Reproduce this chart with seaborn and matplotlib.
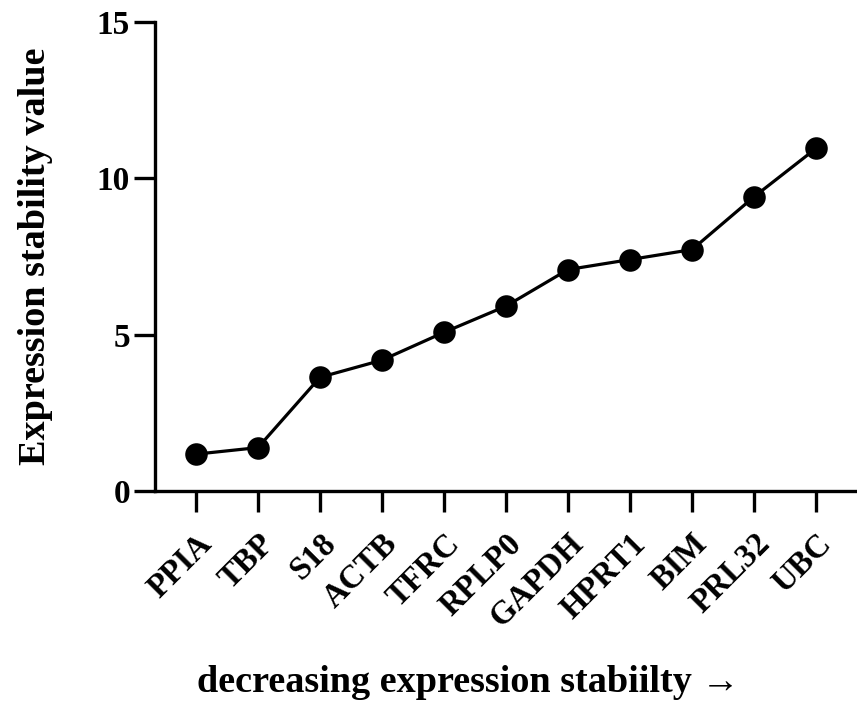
import pandas as pd
import matplotlib
matplotlib.use('Agg')
import matplotlib.pyplot as plt
import seaborn as sns

# Values
genes = ['PPIA', 'TBP', 'S18', 'ACTB', 'TFRC', 'RPLP0', 'GAPDH', 'HPRT1', 'BIM', 'PRL32', 'UBC']
stability = [1.17, 1.38, 3.63, 4.18, 5.07, 5.91, 7.08, 7.40, 7.72, 9.41, 10.96]
y_ticks = [0, 5, 10, 15]

df = pd.DataFrame({'gene': genes, 'value': stability})

sns.set_style('ticks')
plt.rcParams['font.family'] = ['Liberation Serif', 'DejaVu Serif']
plt.rcParams['font.weight'] = 'bold'
plt.rcParams['text.color'] = 'black'
plt.rcParams['axes.labelcolor'] = 'black'
plt.rcParams['xtick.color'] = 'black'
plt.rcParams['ytick.color'] = 'black'

fig = plt.figure(figsize=(8.57, 7.02), dpi=100)
ax = fig.add_axes([0.1809, 0.301, 0.8191, 0.6674])

sns.pointplot(data=df, x='gene', y='value', color='black', ax=ax,
              markers='o', markersize=14.5, linewidth=2.3, errorbar=None)

ax.set_ylim(0, 15)
ax.set_yticks(y_ticks)
ax.set_xlim(-0.66, 10.66)

sns.despine(ax=ax)
for side in ['left', 'bottom']:
    ax.spines[side].set_linewidth(2.4)
    ax.spines[side].set_color('black')

ax.tick_params(axis='both', length=15, width=2.4, color='black', labelcolor='black')
ax.tick_params(axis='y', labelsize=24, pad=3)
ax.tick_params(axis='x', labelsize=23.5, pad=12)
plt.setp(ax.get_xticklabels(), rotation=45, ha='right', rotation_mode='anchor',
         fontweight='bold')
plt.setp(ax.get_yticklabels(), fontweight='bold')

ax.set_ylabel('Expression stability value', fontsize=27.5, fontweight='bold')
ax.set_xlabel('decreasing expression stabiilty \u2192', fontsize=27.5, fontweight='bold')
ax.yaxis.set_label_coords(-0.145, 0.5)
ax.xaxis.set_label_coords(0.446, -0.372)

fig.savefig('out.png', dpi=100)
